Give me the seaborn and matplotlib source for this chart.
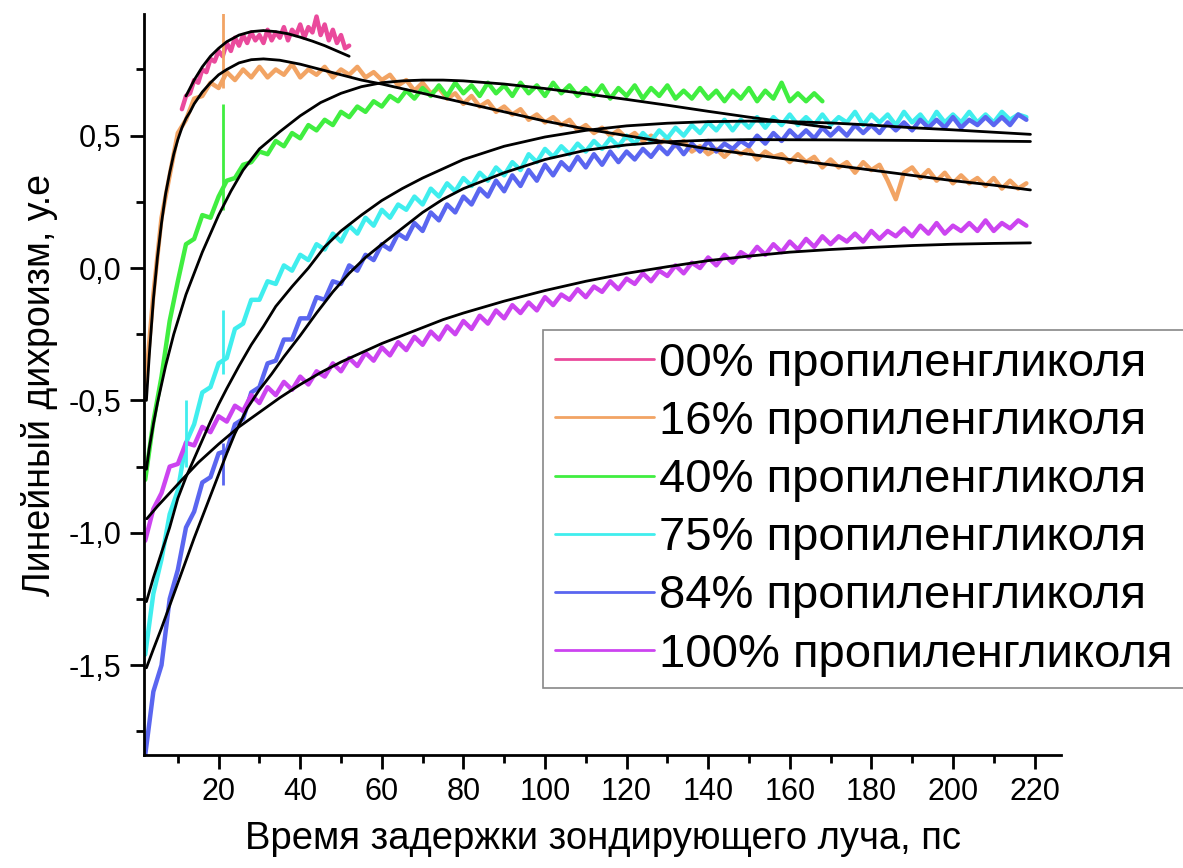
import numpy as np
import matplotlib
matplotlib.use("Agg")
import matplotlib.pyplot as plt
import seaborn as sns
from matplotlib.ticker import FixedLocator, FixedFormatter

# ---------------- data ----------------
labels = ["00% пропиленгликоля", "16% пропиленгликоля", "40% пропиленгликоля",
          "75% пропиленгликоля", "84% пропиленгликоля", "100% пропиленгликоля"]
colors = ["#ea4a9c", "#f2a464", "#40ee40", "#40eeee", "#5a66f0", "#cc44f0"]

# measured traces (x range: start, end; values evenly spaced)
pink_range = (11, 52)
pink_y = [0.60, 0.65, 0.66, 0.71, 0.70, 0.75, 0.74, 0.79, 0.78, 0.82,
          0.80, 0.85, 0.82, 0.87, 0.84, 0.88, 0.85, 0.89, 0.86, 0.88,
          0.85, 0.90, 0.86, 0.89, 0.87, 0.91, 0.86, 0.90, 0.88, 0.92,
          0.87, 0.91, 0.89, 0.95, 0.88, 0.92, 0.86, 0.90, 0.85, 0.88,
          0.83, 0.84]

orange_range = (2, 218)
orange_y = [-0.46, -0.10, 0.19, 0.35, 0.51, 0.56, 0.64, 0.65, 0.70, 0.68,
            0.74, 0.71, 0.75, 0.72, 0.76, 0.72, 0.75, 0.73, 0.77, 0.72,
            0.75, 0.73, 0.76, 0.72, 0.75, 0.73, 0.76, 0.72, 0.74, 0.71,
            0.73, 0.69, 0.71, 0.67, 0.70, 0.66, 0.68, 0.64, 0.66, 0.62,
            0.65, 0.61, 0.63, 0.59, 0.61, 0.58, 0.60, 0.56, 0.58, 0.55,
            0.57, 0.54, 0.56, 0.52, 0.54, 0.51, 0.53, 0.50, 0.52, 0.49,
            0.51, 0.48, 0.50, 0.47, 0.49, 0.46, 0.48, 0.44, 0.46, 0.43,
            0.45, 0.42, 0.45, 0.43, 0.45, 0.41, 0.44, 0.42, 0.43, 0.40,
            0.43, 0.40, 0.42, 0.38, 0.41, 0.38, 0.40, 0.36, 0.40, 0.37,
            0.39, 0.33, 0.26, 0.36, 0.38, 0.34, 0.37, 0.33, 0.36, 0.32,
            0.35, 0.32, 0.34, 0.31, 0.34, 0.30, 0.33, 0.30, 0.32]

green_range = (2, 168)
green_y = [-0.80, -0.58, -0.41, -0.20, -0.05, 0.09, 0.11, 0.20, 0.19, 0.27,
           0.33, 0.34, 0.39, 0.40, 0.44, 0.43, 0.48, 0.46, 0.51, 0.49,
           0.54, 0.52, 0.56, 0.54, 0.59, 0.57, 0.61, 0.59, 0.63, 0.61,
           0.65, 0.63, 0.67, 0.64, 0.68, 0.65, 0.69, 0.65, 0.70, 0.66,
           0.69, 0.65, 0.70, 0.66, 0.69, 0.65, 0.70, 0.66, 0.69, 0.65,
           0.70, 0.66, 0.69, 0.65, 0.68, 0.65, 0.69, 0.64, 0.68, 0.65,
           0.69, 0.64, 0.68, 0.65, 0.69, 0.64, 0.67, 0.64, 0.68, 0.64,
           0.67, 0.63, 0.67, 0.64, 0.68, 0.63, 0.67, 0.64, 0.70, 0.63,
           0.66, 0.63, 0.66, 0.63]

cyan_range = (2, 218)
cyan_y = [-1.46, -1.23, -1.10, -0.93, -0.84, -0.66, -0.59, -0.47, -0.45, -0.36,
          -0.34, -0.23, -0.21, -0.12, -0.12, -0.05, -0.06, 0.01, -0.01, 0.05,
          0.03, 0.09, 0.07, 0.13, 0.10, 0.16, 0.13, 0.19, 0.16, 0.22,
          0.19, 0.24, 0.22, 0.27, 0.24, 0.30, 0.27, 0.32, 0.29, 0.34,
          0.31, 0.36, 0.33, 0.38, 0.35, 0.40, 0.37, 0.43, 0.40, 0.45,
          0.42, 0.46, 0.43, 0.47, 0.44, 0.48, 0.45, 0.49, 0.46, 0.50,
          0.47, 0.51, 0.48, 0.52, 0.49, 0.53, 0.50, 0.54, 0.51, 0.55,
          0.52, 0.56, 0.52, 0.56, 0.53, 0.57, 0.53, 0.57, 0.54, 0.58,
          0.54, 0.57, 0.54, 0.58, 0.54, 0.57, 0.55, 0.59, 0.54, 0.58,
          0.55, 0.58, 0.54, 0.59, 0.55, 0.58, 0.54, 0.59, 0.55, 0.58,
          0.55, 0.59, 0.55, 0.58, 0.55, 0.59, 0.56, 0.58, 0.57]

blue_range = (2, 218)
blue_y = [-1.84, -1.60, -1.50, -1.25, -1.14, -0.98, -0.92, -0.81, -0.79, -0.70,
          -0.69, -0.59, -0.57, -0.47, -0.45, -0.36, -0.35, -0.27, -0.27, -0.19,
          -0.19, -0.11, -0.12, -0.05, -0.06, 0.01, -0.01, 0.05, 0.03, 0.09,
          0.07, 0.13, 0.11, 0.17, 0.14, 0.21, 0.18, 0.24, 0.21, 0.27,
          0.24, 0.30, 0.27, 0.33, 0.29, 0.35, 0.31, 0.37, 0.33, 0.39,
          0.35, 0.40, 0.37, 0.42, 0.38, 0.43, 0.39, 0.44, 0.40, 0.44,
          0.41, 0.45, 0.42, 0.46, 0.43, 0.47, 0.43, 0.47, 0.44, 0.48,
          0.44, 0.47, 0.45, 0.48, 0.46, 0.50, 0.47, 0.51, 0.48, 0.52,
          0.49, 0.52, 0.49, 0.53, 0.50, 0.53, 0.50, 0.54, 0.51, 0.54,
          0.51, 0.55, 0.52, 0.55, 0.52, 0.56, 0.53, 0.56, 0.53, 0.57,
          0.53, 0.56, 0.54, 0.57, 0.54, 0.57, 0.54, 0.58, 0.56]

violet_range = (2, 218)
violet_y = [-1.03, -0.91, -0.85, -0.75, -0.74, -0.66, -0.67, -0.60, -0.62, -0.56,
            -0.58, -0.52, -0.54, -0.48, -0.51, -0.45, -0.48, -0.43, -0.46, -0.41,
            -0.44, -0.39, -0.41, -0.36, -0.39, -0.34, -0.37, -0.32, -0.35, -0.30,
            -0.33, -0.28, -0.31, -0.26, -0.29, -0.24, -0.27, -0.22, -0.25, -0.20,
            -0.23, -0.18, -0.21, -0.16, -0.19, -0.14, -0.17, -0.13, -0.16, -0.11,
            -0.14, -0.10, -0.12, -0.08, -0.11, -0.07, -0.09, -0.05, -0.08, -0.04,
            -0.06, -0.02, -0.05, -0.01, -0.03, 0.01, -0.02, 0.02, 0.00, 0.04,
            0.01, 0.05, 0.02, 0.06, 0.04, 0.08, 0.05, 0.09, 0.06, 0.10,
            0.07, 0.11, 0.08, 0.12, 0.09, 0.12, 0.10, 0.13, 0.10, 0.14,
            0.11, 0.14, 0.12, 0.15, 0.12, 0.16, 0.13, 0.17, 0.13, 0.16,
            0.14, 0.17, 0.14, 0.18, 0.14, 0.17, 0.15, 0.18, 0.16]

# single-point artefact spikes: (series index, x, low, high)
spike_series = [1, 2, 3, 3, 4]
spike_x = [21, 21, 21, 12, 21]
spike_lo = [0.68, 0.22, -0.40, -0.75, -0.82]
spike_hi = [0.97, 0.62, -0.16, -0.50, -0.66]

# fitted curves
fit_pink_x = [12, 14, 16, 18, 20, 22, 25, 28, 31, 34, 37, 40, 43, 46, 49, 52]
fit_pink_y = [0.65, 0.71, 0.76, 0.80, 0.83, 0.855, 0.88, 0.893, 0.897, 0.893,
              0.885, 0.872, 0.857, 0.84, 0.82, 0.80]

fit_orange_x = [2.3, 3, 4, 5, 6, 7, 8, 9, 10, 11, 12, 13, 14, 16, 18, 20, 22, 25, 28,
                31, 35, 40, 45, 50, 55, 60, 70, 80, 90, 100, 110, 120, 130, 140,
                150, 160, 170, 180, 190, 200, 210, 219]
fit_orange_y = [-0.50, -0.33, -0.12, 0.04, 0.17, 0.28, 0.36, 0.43, 0.485, 0.53,
                0.565, 0.59, 0.62, 0.665, 0.70, 0.73, 0.75, 0.775, 0.787, 0.79,
                0.785, 0.77, 0.75, 0.73, 0.71, 0.695, 0.66, 0.625, 0.59, 0.555,
                0.525, 0.50, 0.475, 0.45, 0.43, 0.41, 0.39, 0.37, 0.35, 0.33,
                0.313, 0.295]

fit_green_x = [2.3, 3, 4, 5, 6, 7, 8, 9, 10, 12, 14, 16, 18, 20, 23, 26, 30, 35,
               40, 45, 50, 55, 60, 65, 70, 75, 80, 90, 100, 110, 120, 130, 140,
               150, 160, 170]
fit_green_y = [-0.76, -0.68, -0.59, -0.51, -0.44, -0.37, -0.31, -0.25, -0.20,
               -0.10, -0.02, 0.06, 0.13, 0.20, 0.29, 0.37, 0.45, 0.515, 0.575,
               0.625, 0.66, 0.685, 0.70, 0.707, 0.71, 0.71, 0.707, 0.695, 0.678,
               0.658, 0.637, 0.615, 0.592, 0.57, 0.55, 0.53]

fit_cyan_x = [2.3, 4, 6, 8, 10, 12, 14, 16, 18, 20, 22, 25, 28, 31, 34, 38, 42,
              46, 50, 55, 60, 65, 70, 75, 80, 90, 100, 110, 120, 130, 140, 150,
              160, 170, 180, 190, 200, 210, 219]
fit_cyan_y = [-1.26, -1.17, -1.075, -0.98, -0.87, -0.79, -0.72, -0.65, -0.58,
              -0.515, -0.455, -0.37, -0.29, -0.22, -0.145, -0.07, 0.0, 0.08,
              0.14, 0.20, 0.255, 0.30, 0.34, 0.375, 0.41, 0.46, 0.495, 0.52,
              0.537, 0.547, 0.553, 0.555, 0.553, 0.548, 0.54, 0.53, 0.522,
              0.513, 0.505]

fit_blue_x = [2.3, 4, 6, 8, 10, 12, 14, 16, 18, 20, 22, 24, 27, 30, 33, 36, 40,
              44, 48, 52, 56, 60, 65, 70, 75, 80, 90, 100, 110, 120, 130, 140,
              150, 170, 190, 219]
fit_blue_y = [-1.51, -1.44, -1.36, -1.275, -1.19, -1.105, -1.02, -0.94, -0.86,
              -0.78, -0.70, -0.625, -0.53, -0.46, -0.40, -0.335, -0.255, -0.17,
              -0.09, -0.02, 0.04, 0.09, 0.15, 0.21, 0.26, 0.30, 0.36, 0.41,
              0.445, 0.465, 0.477, 0.483, 0.485, 0.484, 0.482, 0.478]

fit_violet_x = [2.4, 5, 8, 11, 15, 20, 25, 30, 35, 40, 45, 50, 55, 60, 65, 70, 75,
                80, 90, 100, 110, 120, 130, 140, 150, 160, 170, 180, 190, 200,
                210, 219]
fit_violet_y = [-0.947, -0.90, -0.85, -0.80, -0.735, -0.665, -0.60, -0.545,
                -0.49, -0.44, -0.395, -0.355, -0.32, -0.285, -0.255, -0.225,
                -0.195, -0.17, -0.125, -0.085, -0.05, -0.02, 0.005, 0.028,
                0.045, 0.06, 0.07, 0.078, 0.085, 0.09, 0.093, 0.095]

y_ticks = [-1.5, -1.0, -0.5, 0.0, 0.5]
y_ticklabels = ["-1,5", "-1,0", "-0,5", "0,0", "0,5"]
x_ticks = [20, 40, 60, 80, 100, 120, 140, 160, 180, 200, 220]
x_minor = [10, 30, 50, 70, 90, 110, 130, 150, 170, 190, 210]
y_minor = [-1.75, -1.25, -0.75, -0.25, 0.25, 0.75]

x_label = "Время задержки зондирующего луча, пс"
y_label = "Линейный дихроизм, у.е"

# ---------------- plotting ----------------
sns.set_style("ticks")
plt.rcParams['font.family'] = ['Liberation Sans', 'DejaVu Sans']
plt.rcParams['text.color'] = 'black'
plt.rcParams['axes.labelcolor'] = 'black'
plt.rcParams['xtick.color'] = 'black'
plt.rcParams['ytick.color'] = 'black'

fig = plt.figure(figsize=(11.83, 8.68), dpi=100)
ax = fig.add_axes([0.1217, 0.130, 0.7752, 0.854])

traces = [(pink_range, pink_y), (orange_range, orange_y), (green_range, green_y),
          (cyan_range, cyan_y), (blue_range, blue_y), (violet_range, violet_y)]

handles = []
for (rng, vals), col, lab in zip(traces, colors, labels):
    xs = np.linspace(rng[0], rng[1], len(vals))
    sns.lineplot(x=xs, y=vals, color=col, lw=3.2, ax=ax, estimator=None,
                 sort=False, legend=False)
    handles.append(ax.lines[-1])

for si, sx, lo, hi in zip(spike_series, spike_x, spike_lo, spike_hi):
    ax.vlines(sx, lo, hi, color=colors[si], lw=2.0)

fits = [(fit_pink_x, fit_pink_y), (fit_orange_x, fit_orange_y),
        (fit_green_x, fit_green_y), (fit_cyan_x, fit_cyan_y),
        (fit_blue_x, fit_blue_y), (fit_violet_x, fit_violet_y)]
for fx, fy in fits:
    sns.lineplot(x=fx, y=fy, color="black", lw=2.0, ax=ax, estimator=None,
                 sort=False, legend=False)

ax.set_xlim(1.7, 226.5)
ax.set_ylim(-1.84, 0.96)

ax.xaxis.set_major_locator(FixedLocator(x_ticks))
ax.xaxis.set_minor_locator(FixedLocator(x_minor))
ax.yaxis.set_major_locator(FixedLocator(y_ticks))
ax.yaxis.set_major_formatter(FixedFormatter(y_ticklabels))
ax.yaxis.set_minor_locator(FixedLocator(y_minor))

sns.despine(ax=ax)
for s in ("left", "bottom"):
    ax.spines[s].set_linewidth(2.0)
    ax.spines[s].set_color("black")
ax.tick_params(which="major", direction="out", length=10, width=2,
               labelsize=22, color="black", labelcolor="black", pad=6)
ax.tick_params(which="minor", direction="out", length=6, width=2, color="black")

ax.set_xlabel(x_label, fontsize=27.5, labelpad=10, color="black")
ax.set_ylabel(y_label, fontsize=27, labelpad=8, color="black")

leg = ax.legend(handles, labels, loc="upper left",
                bbox_to_anchor=(543 / 1183, 1 - 330 / 868),
                bbox_transform=fig.transFigure,
                fontsize=34, frameon=True, fancybox=False, framealpha=1,
                edgecolor="#888888", handlelength=2.1, handletextpad=0.1,
                labelspacing=0.3, borderpad=0.25, borderaxespad=0)
leg.get_frame().set_linewidth(1.2)
for ln in leg.get_lines():
    ln.set_linewidth(2.0)
for t in leg.get_texts():
    t.set_color("black")

fig.savefig("out.png", dpi=100)
